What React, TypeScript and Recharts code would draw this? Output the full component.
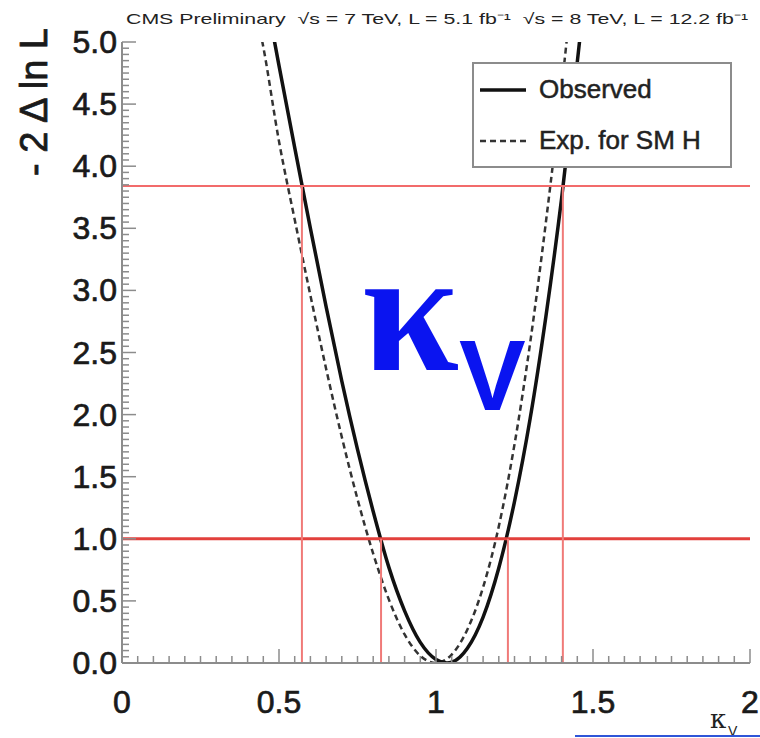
import { LineChart, Line, XAxis, YAxis, ReferenceLine, Legend } from "recharts";

if (typeof document !== "undefined") document.body.style.margin = "0";

// axis labels
const xMajorTicks = [0, 0.5, 1, 1.5, 2];
const xTickLabels = ["0", "0.5", "1", "1.5", "2"];
const yMajorTicks = [0, 0.5, 1, 1.5, 2, 2.5, 3, 3.5, 4, 4.5, 5];
const yTickLabels = ["0.0", "0.5", "1.0", "1.5", "2.0", "2.5", "3.0", "3.5", "4.0", "4.5", "5.0"];

// minor ticks every 0.05 (ROOT style ruler)
const xAllTicks = Array.from({ length: 41 }, (_, i) => +(i * 0.05).toFixed(2));
const yAllTicks = Array.from({ length: 101 }, (_, i) => +(i * 0.05).toFixed(2));

// observed likelihood scan
const observedK = [0.48, 0.5, 0.55, 0.6, 0.65, 0.7, 0.75, 0.8, 0.85, 0.9, 0.95, 1.0, 1.035, 1.05, 1.1, 1.15, 1.2, 1.25, 1.3, 1.35, 1.4, 1.45, 1.46];
const observedNll = [5.08, 4.81, 4.15, 3.5, 2.87, 2.27, 1.72, 1.22, 0.77, 0.42, 0.166, 0.028, 0, 0.006, 0.119, 0.37, 0.765, 1.3, 1.97, 2.79, 3.74, 4.84, 5.07];

// expected for SM Higgs
const expectedK = [0.44, 0.45, 0.5, 0.55, 0.6, 0.65, 0.7, 0.75, 0.8, 0.85, 0.9, 0.95, 1.0, 1.05, 1.1, 1.15, 1.2, 1.25, 1.3, 1.35, 1.4, 1.42];
const expectedNll = [5.09, 4.96, 4.2, 3.57, 2.96, 2.37, 1.82, 1.32, 0.88, 0.51, 0.23, 0.058, 0, 0.068, 0.27, 0.61, 1.1, 1.76, 2.58, 3.55, 4.63, 5.1];

// CL thresholds and observed intervals
const cl68 = 1.0;
const cl95 = 3.84;
const interval68 = [0.825, 1.229];
const interval95 = [0.573, 1.404];

const observed = observedK.map((k, i) => ({ k, nll: observedNll[i] }));
const expected = expectedK.map((k, i) => ({ k, nll: expectedNll[i] }));

const FONT = "'Liberation Sans', Arial, Helvetica, sans-serif";
const FRAME = "#8c8c8c";
const INK = "#1a1a1a";

const near = (a: number, b: number) => Math.abs(a - b) < 1e-6;
const isMajor = (v: number) => near(v * 2, Math.round(v * 2));

function XTick(props: any) {
  const { x, y, payload, side } = props;
  const v = payload.value;
  const major = isMajor(v);
  const dir = side === "bottom" ? -1 : 1;
  const idx = xMajorTicks.findIndex((t) => near(t, v));
  return (
    <g>
      <line x1={x} x2={x} y1={y} y2={y + dir * (major ? 14 : 7)} stroke={FRAME} strokeWidth={1.5} />
      {side === "bottom" && idx >= 0 && (
        <text x={x} y={y + 50} textAnchor="middle" fontSize={32} fill={INK} stroke={INK} strokeWidth={0.7} fontFamily={FONT}>
          {xTickLabels[idx]}
        </text>
      )}
    </g>
  );
}

function YTick(props: any) {
  const { x, y, payload, side } = props;
  const v = payload.value;
  const major = isMajor(v);
  const dir = side === "left" ? 1 : -1;
  const idx = yMajorTicks.findIndex((t) => near(t, v));
  return (
    <g>
      <line x1={x} x2={x + dir * (major ? 14 : 7)} y1={y} y2={y} stroke={FRAME} strokeWidth={1.5} />
      {side === "left" && idx >= 0 && (
        <text x={x - 5} y={y + 11} textAnchor="end" fontSize={32} fill={INK} stroke={INK} strokeWidth={0.7} fontFamily={FONT}>
          {yTickLabels[idx]}
        </text>
      )}
    </g>
  );
}

function LegendBox() {
  const row = { display: "flex", alignItems: "center", height: 51 } as const;
  return (
    <div
      style={{
        boxSizing: "border-box",
        width: 260,
        height: 106,
        border: `2px solid ${FRAME}`,
        background: "#fff",
        fontFamily: FONT,
        fontSize: 26,
        color: "#222",
        WebkitTextStroke: "0.5px #222",
        padding: "0 0 0 6px",
      }}
    >
      <div style={row}>
        <svg width={52} height={10}>
          <line x1={0} x2={46} y1={5} y2={5} stroke="#111" strokeWidth={3.5} />
        </svg>
        <span style={{ marginLeft: 7 }}>Observed</span>
      </div>
      <div style={row}>
        <svg width={52} height={10}>
          <line x1={0} x2={46} y1={5} y2={5} stroke="#333" strokeWidth={2.5} strokeDasharray="6 4" />
        </svg>
        <span style={{ marginLeft: 7 }}>Exp. for SM H</span>
      </div>
    </div>
  );
}

export default function App() {
  return (
    <div style={{ position: "relative", width: 760, height: 738, background: "#fff" }}>
      <LineChart width={760} height={738} margin={{ top: 42, right: 10, left: 0, bottom: 0 }}>
        <XAxis
          dataKey="k"
          type="number"
          domain={[0, 2]}
          allowDataOverflow
          ticks={xAllTicks}
          interval={0}
          height={75}
          tickLine={false}
          tickSize={0}
          tickMargin={0}
          axisLine={{ stroke: FRAME, strokeWidth: 2 }}
          tick={(p: any) => <XTick {...p} side="bottom" />}
        />
        <XAxis
          xAxisId="top"
          orientation="top"
          type="number"
          domain={[0, 2]}
          ticks={xAllTicks}
          interval={0}
          height={0}
          tickLine={false}
          tickSize={0}
          tickMargin={0}
          axisLine={{ stroke: FRAME, strokeWidth: 2 }}
          tick={(p: any) => <XTick {...p} side="top" />}
        />
        <YAxis
          type="number"
          domain={[0, 5]}
          allowDataOverflow
          ticks={yAllTicks}
          interval={0}
          width={122}
          tickLine={false}
          tickSize={0}
          tickMargin={0}
          axisLine={{ stroke: FRAME, strokeWidth: 2 }}
          tick={(p: any) => <YTick {...p} side="left" />}
        />
        <YAxis
          yAxisId="right"
          orientation="right"
          type="number"
          domain={[0, 5]}
          ticks={yAllTicks}
          interval={0}
          width={0}
          tickLine={false}
          tickSize={0}
          tickMargin={0}
          axisLine={{ stroke: FRAME, strokeWidth: 2 }}
          tick={(p: any) => <YTick {...p} side="right" />}
        />

        <Line data={expected} dataKey="nll" type="monotone" stroke="#333" strokeWidth={2.5} strokeDasharray="6 4" dot={false} isAnimationActive={false} />
        <Line data={observed} dataKey="nll" type="monotone" stroke="#111" strokeWidth={3.5} dot={false} isAnimationActive={false} />

        <ReferenceLine y={cl95} stroke="#f26b6b" strokeWidth={2} />
        <ReferenceLine y={cl68} stroke="#e2403c" strokeWidth={3} />
        {interval95.map((k) => (
          <ReferenceLine key={"95" + k} segment={[{ x: k, y: 0 }, { x: k, y: cl95 }]} stroke="#f07a78" strokeWidth={2} />
        ))}
        {interval68.map((k) => (
          <ReferenceLine key={"68" + k} segment={[{ x: k, y: 0 }, { x: k, y: cl68 }]} stroke="#f07a78" strokeWidth={2} />
        ))}

        <Legend
          layout="horizontal"
          verticalAlign="middle"
          align="center"
          wrapperStyle={{ left: 472, top: 62, width: 260, height: 106 }}
          content={() => <LegendBox />}
        />
      </LineChart>

      <svg width={760} height={738} style={{ position: "absolute", left: 0, top: 0, pointerEvents: "none" }}>
        <text
          x={126}
          y={24}
          fontSize={15}
          fill="#222"
          fontFamily={FONT}
          textLength={622}
          lengthAdjust="spacingAndGlyphs"
          style={{ whiteSpace: "pre" }}
        >
          {"CMS Preliminary  √s = 7 TeV, L = 5.1 fb⁻¹  √s = 8 TeV, L = 12.2 fb⁻¹"}
        </text>
        <text
          transform="translate(47,28) rotate(-90)"
          textAnchor="end"
          fontSize={38}
          fill={INK}
          stroke={INK}
          strokeWidth={0.8}
          fontFamily={FONT}
          style={{ whiteSpace: "pre" }}
        >
          {"- 2 Δ ln L"}
        </text>
        <text x={362} y={370} fontSize={175} fontWeight="bold" fill="#0a14f0" fontFamily="'Liberation Serif', serif">
          κ
        </text>
        <text x={459} y={410} fontSize={100} fontWeight="bold" fill="#0a14f0" fontFamily={FONT}>
          V
        </text>
        <text x={710} y={728} fontSize={26} fill="#222" fontFamily="'DejaVu Serif', serif">
          κ
        </text>
        <text x={728} y={736} fontSize={14} fill="#222" fontFamily={FONT}>
          V
        </text>
        <line x1={575} x2={760} y1={736} y2={736} stroke="#2f55d8" strokeWidth={2} />
      </svg>
    </div>
  );
}
